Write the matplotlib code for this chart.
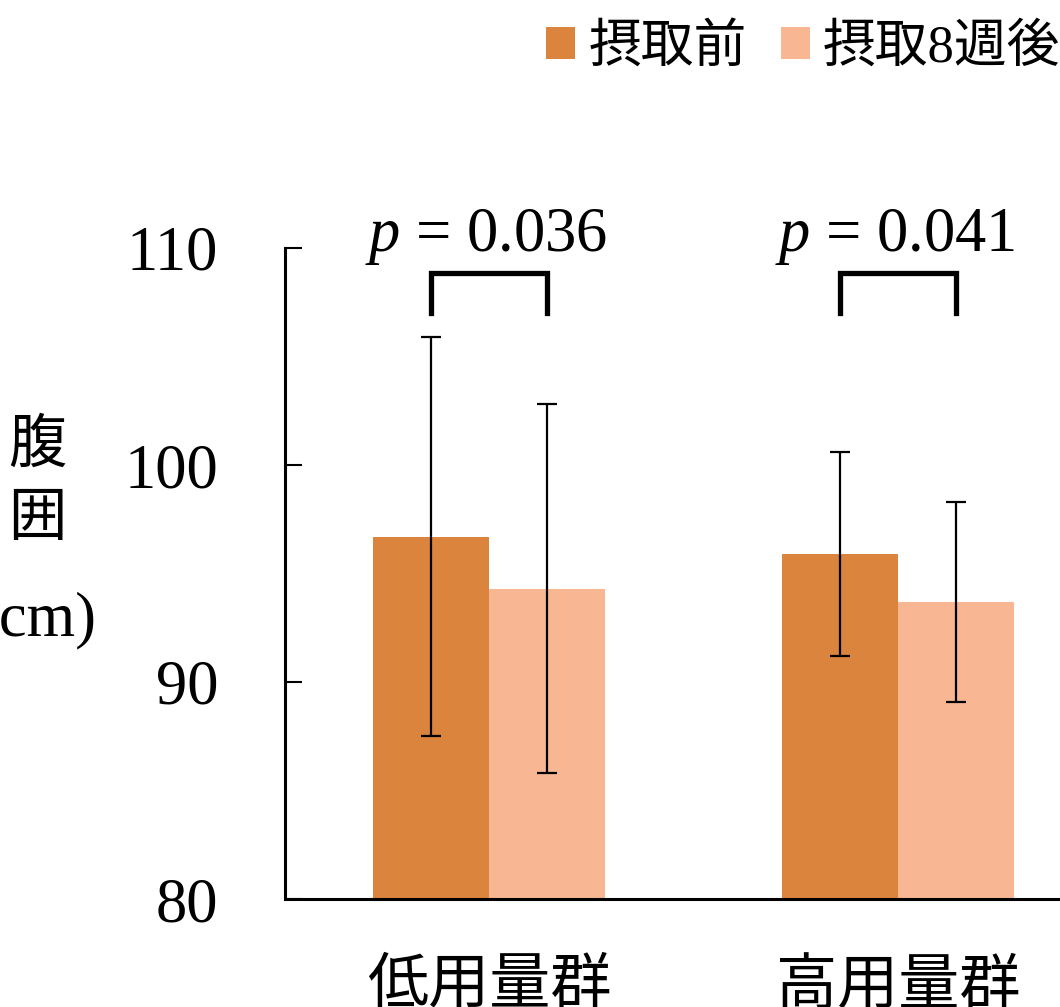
import matplotlib
matplotlib.use("Agg")
import matplotlib.pyplot as plt
from matplotlib.patches import Patch
import numpy as np

plt.rcParams['font.family'] = ['Liberation Serif', 'Noto Sans CJK JP']
plt.rcParams['mathtext.fontset'] = 'custom'
plt.rcParams['mathtext.it'] = 'Liberation Serif:italic'
plt.rcParams['mathtext.rm'] = 'Liberation Serif'

# ---- data ----
groups = ['低用量群', '高用量群']
series_names = ['摂取前', '摂取8週後']
before_mean = [96.7, 95.9]
before_sd = [9.2, 4.7]
after_mean = [94.3, 93.7]
after_sd = [8.5, 4.6]
p_labels = ['0.036', '0.041']
bracket_low = [107.0, 107.0]
bracket_high = [108.85, 108.85]
yticks = [80, 90, 100, 110]

colors = ['#DB843D', '#F8B692']

W, H = 1060, 1007
fig = plt.figure(figsize=(W / 100, H / 100), dpi=100)
left_px, right_px, bottom_px, top_px = 285, 1102.5, 899, 248
ax = fig.add_axes([left_px / W, (H - bottom_px) / H,
                   (right_px - left_px) / W, (bottom_px - top_px) / H])

x = np.arange(len(groups))
bw = 0.284
ax.bar(x - bw / 2, [m - 80 for m in before_mean], bw, bottom=80, color=colors[0], zorder=2)
ax.bar(x + bw / 2, [m - 80 for m in after_mean], bw, bottom=80, color=colors[1], zorder=2)
ek = dict(fmt='none', ecolor='black', elinewidth=1.6, capsize=7.2, capthick=1.6, zorder=3)
ax.errorbar(x - bw / 2, before_mean, yerr=before_sd, **ek)
ax.errorbar(x + bw / 2, after_mean, yerr=after_sd, **ek)

for i in range(len(groups)):
    xl, xr = x[i] - bw / 2, x[i] + bw / 2
    ax.plot([xl, xl, xr, xr], [bracket_low[i], bracket_high[i], bracket_high[i], bracket_low[i]],
            color='black', lw=3.8, solid_capstyle='projecting', solid_joinstyle='miter',
            clip_on=False, zorder=4)
    ax.text(x[i] - 0.008, 109.86, r'$p$' + ' = ' + p_labels[i], ha='center', va='baseline',
            fontsize=45, clip_on=False)

ax.set_xlim(-0.5, 1.5)
ax.set_ylim(80, 110)
ax.set_yticks(yticks)
ax.set_yticklabels([str(t) for t in yticks], fontsize=45)
ax.set_xticks(x)
ax.set_xticklabels(groups, fontsize=44)
ax.tick_params(axis='y', direction='in', length=12, width=1.5, pad=48)
ax.tick_params(axis='x', length=0, pad=44)
for s in ['top', 'right']:
    ax.spines[s].set_visible(False)
for s in ['left', 'bottom']:
    ax.spines[s].set_linewidth(2.2)

# y label (vertical stacked, partly cut at the left edge as in the reference)
fig.text(37 / W, 1 - 447 / H, '腹', ha='center', va='center', fontsize=42)
fig.text(37 / W, 1 - 521 / H, '囲', ha='center', va='center', fontsize=42)
fig.text(37 / W, 1 - 620 / H, '(cm)', ha='center', va='center', fontsize=45)

handles = [Patch(facecolor=colors[0]), Patch(facecolor=colors[1])]
fig.legend(handles, series_names, loc='upper left', bbox_to_anchor=(546 / W, 1 - 24 / H),
           ncol=2, frameon=False, fontsize=38, handlelength=0.55, handleheight=0.55,
           handletextpad=0.25, columnspacing=0.65, borderpad=0, borderaxespad=0)

fig.savefig('out.png', dpi=100)
